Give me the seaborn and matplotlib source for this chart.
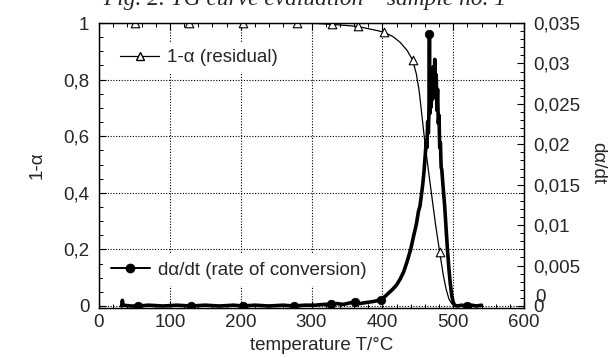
import numpy as np
import pandas as pd
import matplotlib
matplotlib.use('Agg')
import matplotlib.pyplot as plt
import seaborn as sns
from matplotlib.lines import Line2D
from matplotlib.ticker import AutoMinorLocator, FixedLocator, FixedFormatter

sns.set_style('ticks')
plt.rcParams['font.family'] = ['Liberation Sans', 'DejaVu Sans']

# 1-alpha (residual) curve, left axis
resid_T = [32, 100, 200, 280, 310, 330, 350, 365, 380, 395, 403, 415, 425, 435, 443,
           448, 452, 456, 460, 465, 470, 475, 481, 486, 490, 494, 498, 502, 506, 515]
resid_val = [1, 1, 1, 1, 0.998, 0.995, 0.991, 0.988, 0.98, 0.972, 0.967, 0.952, 0.932, 0.903, 0.868,
             0.82, 0.76, 0.67, 0.58, 0.48, 0.385, 0.29, 0.19, 0.11, 0.06, 0.025, 0.008, 0.001, 0, 0]
resid_mark_T = [51, 127, 203, 279, 329, 365, 403, 443, 481]
resid_mark_val = [1, 1, 1, 1, 0.995, 0.988, 0.967, 0.868, 0.19]

# d(alpha)/dt (rate of conversion), right axis
rate_T = [32, 33, 34, 45, 55, 70, 90, 110, 130, 150, 170, 190, 203, 220, 240, 260, 275, 290,
          305, 318, 327, 335, 345, 355, 362, 368, 375, 383, 390, 398, 404, 410, 415, 420,
          425, 430, 435, 440, 444, 448, 451, 453, 455, 457, 459, 460, 461, 462, 463, 464,
          465, 466, 466.5, 467, 468, 469, 470, 471, 472, 473, 474, 475, 476, 477, 478, 479,
          480, 481, 482, 483, 484, 486, 488, 490, 492, 494, 496, 498, 500, 502, 506, 512,
          519, 526, 533, 540]
rate_val = [0, 0.0007, 0.0001, 0, 0, 0.0001, 0, 0.0001, 0, 0.0001, 0, 0.0001, 0, 0.0001, 0,
            0.0001, 0, 0.0001, 0.0001, 0.0002, 0.0002, 0.0003, 0.0002, 0.0004, 0.0005, 0.0003,
            0.0004, 0.0005, 0.0006, 0.0008, 0.0012, 0.0017, 0.0021, 0.0026, 0.0033, 0.0042,
            0.0055, 0.007, 0.0086, 0.0101, 0.0117, 0.0123, 0.0136, 0.015, 0.0168, 0.018,
            0.0192, 0.0205, 0.0196, 0.0228, 0.0214, 0.0248, 0.0337, 0.0238, 0.027, 0.0246,
            0.0282, 0.0256, 0.0296, 0.0262, 0.0305, 0.0262, 0.0286, 0.0242, 0.0268, 0.0226,
            0.0236, 0.0196, 0.0202, 0.0172, 0.0168, 0.0145, 0.0124, 0.0096, 0.0069, 0.0046,
            0.0027, 0.0013, 0.0005, 0.0001, 0, 0.0001, 0, 0.0001, 0, 0.0001]
rate_mark_T = [55, 130, 203, 275, 327, 362, 398, 466.5, 519]
rate_mark_val = [0, 0, 0, 0, 0.0002, 0.0005, 0.0008, 0.0337, 0]

left_ticks = [0, 0.2, 0.4, 0.6, 0.8, 1.0]
left_labels = ['0', '0,2', '0,4', '0,6', '0,8', '1']
right_ticks = [0, 0.005, 0.01, 0.015, 0.02, 0.025, 0.03, 0.035]
right_labels = ['0', '0,005', '0,01', '0,015', '0,02', '0,025', '0,03', '0,035']
x_ticks = [0, 100, 200, 300, 400, 500, 600]

W, H = 613, 358
fig = plt.figure(figsize=(W / 100, H / 100), dpi=100)
ax = fig.add_axes([99 / W, 1 - 308 / H, (524 - 99) / W, (308 - 23) / H])
ax2 = ax.twinx()

ax.set_xlim(0, 600)
ax.set_ylim(-2 / 283, 1)
ax2.set_ylim(-0.035 * 2 / 283, 0.035)

# grid on the left axis
ax.grid(True, which='major', linestyle=(0, (1, 1.5)), linewidth=0.8, color='black')
ax.set_axisbelow(True)

# residual curve
sns.lineplot(x=resid_T, y=resid_val, ax=ax, color='black', linewidth=0.9,
             estimator=None, sort=False, legend=False)
sns.scatterplot(x=resid_mark_T, y=resid_mark_val, ax=ax, marker='^', s=38,
                facecolor='white', edgecolor='black', linewidth=0.8, zorder=3, legend=False)

# rate curve
sns.lineplot(x=rate_T, y=rate_val, ax=ax2, color='black', linewidth=2.6,
             estimator=None, sort=False, legend=False)
sns.scatterplot(x=rate_mark_T, y=rate_mark_val, ax=ax2, marker='o', s=38,
                color='black', edgecolor='black', zorder=3, legend=False)

# ticks
for a in (ax, ax2):
    for s in a.spines.values():
        s.set_linewidth(0.9)
        s.set_color('black')
ax.xaxis.set_major_locator(FixedLocator(x_ticks))
ax.xaxis.set_minor_locator(AutoMinorLocator(5))
ax.yaxis.set_major_locator(FixedLocator(left_ticks))
ax.yaxis.set_major_formatter(FixedFormatter(left_labels))
ax.yaxis.set_minor_locator(AutoMinorLocator(4))
ax2.yaxis.set_major_locator(FixedLocator(right_ticks))
ax2.yaxis.set_major_formatter(FixedFormatter(right_labels))
ax2.yaxis.set_minor_locator(AutoMinorLocator(5))

ax.tick_params(axis='x', which='both', direction='in', top=True, bottom=True,
               labelsize=13.5, pad=4, color='black')
ax.tick_params(axis='y', which='both', direction='in', left=True, right=False,
               labelsize=13.5, pad=7, color='black')
ax2.tick_params(axis='y', which='both', direction='in', right=True,
                labelsize=13.5, pad=7, color='black')
for a in (ax, ax2):
    a.tick_params(which='major', length=5, width=0.8)
    a.tick_params(which='minor', length=3, width=0.7)

ax.set_xlabel('')
ax.set_ylabel('')
ax2.set_ylabel('')

# legends
h1 = Line2D([], [], color='black', lw=0.9, marker='^', mfc='white', mec='black', ms=6)
h2 = Line2D([], [], color='black', lw=1.4, marker='o', mfc='black', mec='black', ms=6)
leg_kw = dict(frameon=True, fancybox=False, edgecolor='none', facecolor='white',
              framealpha=1, handlelength=2.1, handletextpad=0.4, fontsize=13.5,
              borderpad=0.4, borderaxespad=0, loc='center left')
leg1 = ax2.legend([h1], ['1-α (residual)'], bbox_to_anchor=(0.032, 0.878), **leg_kw)
ax2.add_artist(leg1)
leg2 = ax2.legend([h2], ['dα/dt (rate of conversion)'], bbox_to_anchor=(0.01, 0.133), **leg_kw)

# axis titles
fig.text(37 / W, 1 - 165 / H, '1-α', rotation=90, ha='center', va='center', fontsize=13.5)
fig.text(598 / W, 1 - 163 / H, 'dα/dt', rotation=270, ha='center', va='center', fontsize=13.5)
fig.text(322 / W, 1 - 346 / H, 'temperature T/°C', ha='center', va='center', fontsize=13.5)
fig.text(535 / W, 1 - 298 / H, '0', ha='left', va='center', fontsize=13.5)

fig.text(305 / W, 1 - 5 / H, 'Fig. 2. TG curve evaluation – sample no. 1',
         family='Liberation Serif', style='italic', fontsize=16.8, ha='center', va='baseline')

fig.savefig('out.png', dpi=100)
